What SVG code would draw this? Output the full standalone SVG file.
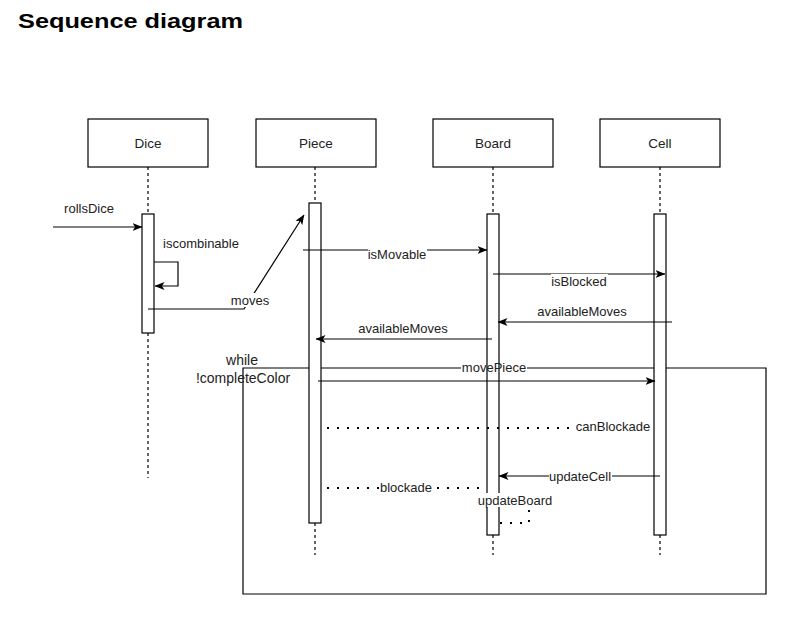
<svg xmlns="http://www.w3.org/2000/svg" width="797" height="620" viewBox="0 0 797 620">
<style>
.box{fill:#fff;stroke:#000;stroke-width:1.2}
.act{fill:#fff;stroke:#000;stroke-width:1.2}
.life{stroke:#000;stroke-width:1.2;stroke-dasharray:3 3;fill:none}
.msg{stroke:#000;stroke-width:1.2;fill:none}
.dot{stroke:#000;stroke-width:2;stroke-dasharray:2 8;fill:none}
.frame{fill:none;stroke:#000;stroke-width:1.2}
.lbl{font-family:"Liberation Sans",Arial,sans-serif;font-size:13px;fill:#222;text-anchor:middle}
.name{font-family:"Liberation Sans",Arial,sans-serif;font-size:13.5px;fill:#222;text-anchor:middle}
.bg{fill:#fff}
</style>
<defs>
<marker id="arr" viewBox="0 0 10 10" refX="9.5" refY="5" markerWidth="10" markerHeight="10" markerUnits="userSpaceOnUse" orient="auto">
<path d="M0,1 L10,5 L0,9 L2.5,5 z" fill="#000"/>
</marker>
</defs>
<text x="18" y="28" font-family="'Liberation Sans',Arial,sans-serif" font-size="21" font-weight="bold" fill="#000" textLength="225" lengthAdjust="spacingAndGlyphs">Sequence diagram</text>

<g id="lifelines">
<path class="life" d="M148,167 V214 M148,333 V478"/>
<path class="life" d="M315,167 V203 M315,523 V555"/>
<path class="life" d="M493,167 V214 M493,535 V555"/>
<path class="life" d="M660,167 V214 M660,535 V555"/>
</g>

<g id="loop-frame">
<path class="frame" d="M243,368 H766 V594 H243 Z"/>
<rect class="bg" x="461" y="360" width="66" height="14"/>
</g>

<g id="Dice">
<rect class="box" x="88" y="119" width="120" height="48"/>
<text class="name" x="148" y="148">Dice</text>
<rect class="act" x="142" y="214" width="12" height="119"/>
</g>
<g id="Piece">
<rect class="box" x="256" y="119" width="120" height="48"/>
<text class="name" x="316" y="148">Piece</text>
<rect class="act" x="309" y="203" width="12" height="320"/>
</g>
<g id="Board">
<rect class="box" x="433" y="119" width="120" height="48"/>
<text class="name" x="493" y="148">Board</text>
<rect class="act" x="487" y="214" width="12" height="321"/>
</g>
<g id="Cell">
<rect class="box" x="600" y="119" width="120" height="48"/>
<text class="name" x="660" y="148">Cell</text>
<rect class="act" x="654" y="214" width="12" height="321"/>
</g>

<g id="connectors">
<path class="msg" d="M53,227 H142" marker-end="url(#arr)"/>
<path class="msg" d="M154,262 H178 V286 H155" marker-end="url(#arr)"/>
<path class="msg" d="M148,309 H244 L304,215" marker-end="url(#arr)"/>
<path class="msg" d="M303,250 H487" marker-end="url(#arr)"/>
<path class="msg" d="M493,274 H665" marker-end="url(#arr)"/>
<path class="msg" d="M672,322 H498" marker-end="url(#arr)"/>
<path class="msg" d="M492,339 H316" marker-end="url(#arr)"/>
<path class="msg" d="M318,381 H655" marker-end="url(#arr)"/>
<path class="dot" d="M327,428 H654"/>
<path class="msg" d="M660,476 H499" marker-end="url(#arr)"/>
<path class="dot" d="M327,488 H484"/>
<path class="dot" d="M499,500 H529 V523 H499"/>
</g>

<g id="labels">
<text class="lbl" x="89" y="212.5">rollsDice</text>
<text class="lbl" x="201" y="247.5">iscombinable</text>
<rect class="bg" x="231" y="293" width="39" height="14"/>
<text class="lbl" x="250" y="304.5">moves</text>
<rect class="bg" x="368" y="247" width="59" height="14"/>
<text class="lbl" x="397" y="258.5">isMovable</text>
<rect class="bg" x="551" y="274" width="57" height="14"/>
<text class="lbl" x="579" y="285.5">isBlocked</text>
<text class="lbl" x="582" y="315.5">availableMoves</text>
<text class="lbl" x="403" y="332.5">availableMoves</text>
<text class="lbl" x="242" y="364.5" style="font-size:14px">while</text>
<text class="lbl" x="243" y="382.5" style="font-size:14px">!completeColor</text>
<text class="lbl" x="494" y="371.5">movePiece</text>
<rect class="bg" x="575" y="419" width="76" height="14"/>
<text class="lbl" x="613" y="430.5">canBlockade</text>
<rect class="bg" x="549" y="469" width="63" height="14"/>
<text class="lbl" x="580" y="480.5">updateCell</text>
<rect class="bg" x="380" y="480" width="53" height="14"/>
<text class="lbl" x="406" y="491.5">blockade</text>
<rect class="bg" x="478" y="493" width="75" height="14"/>
<text class="lbl" x="515" y="504.5">updateBoard</text>
</g>
</svg>
